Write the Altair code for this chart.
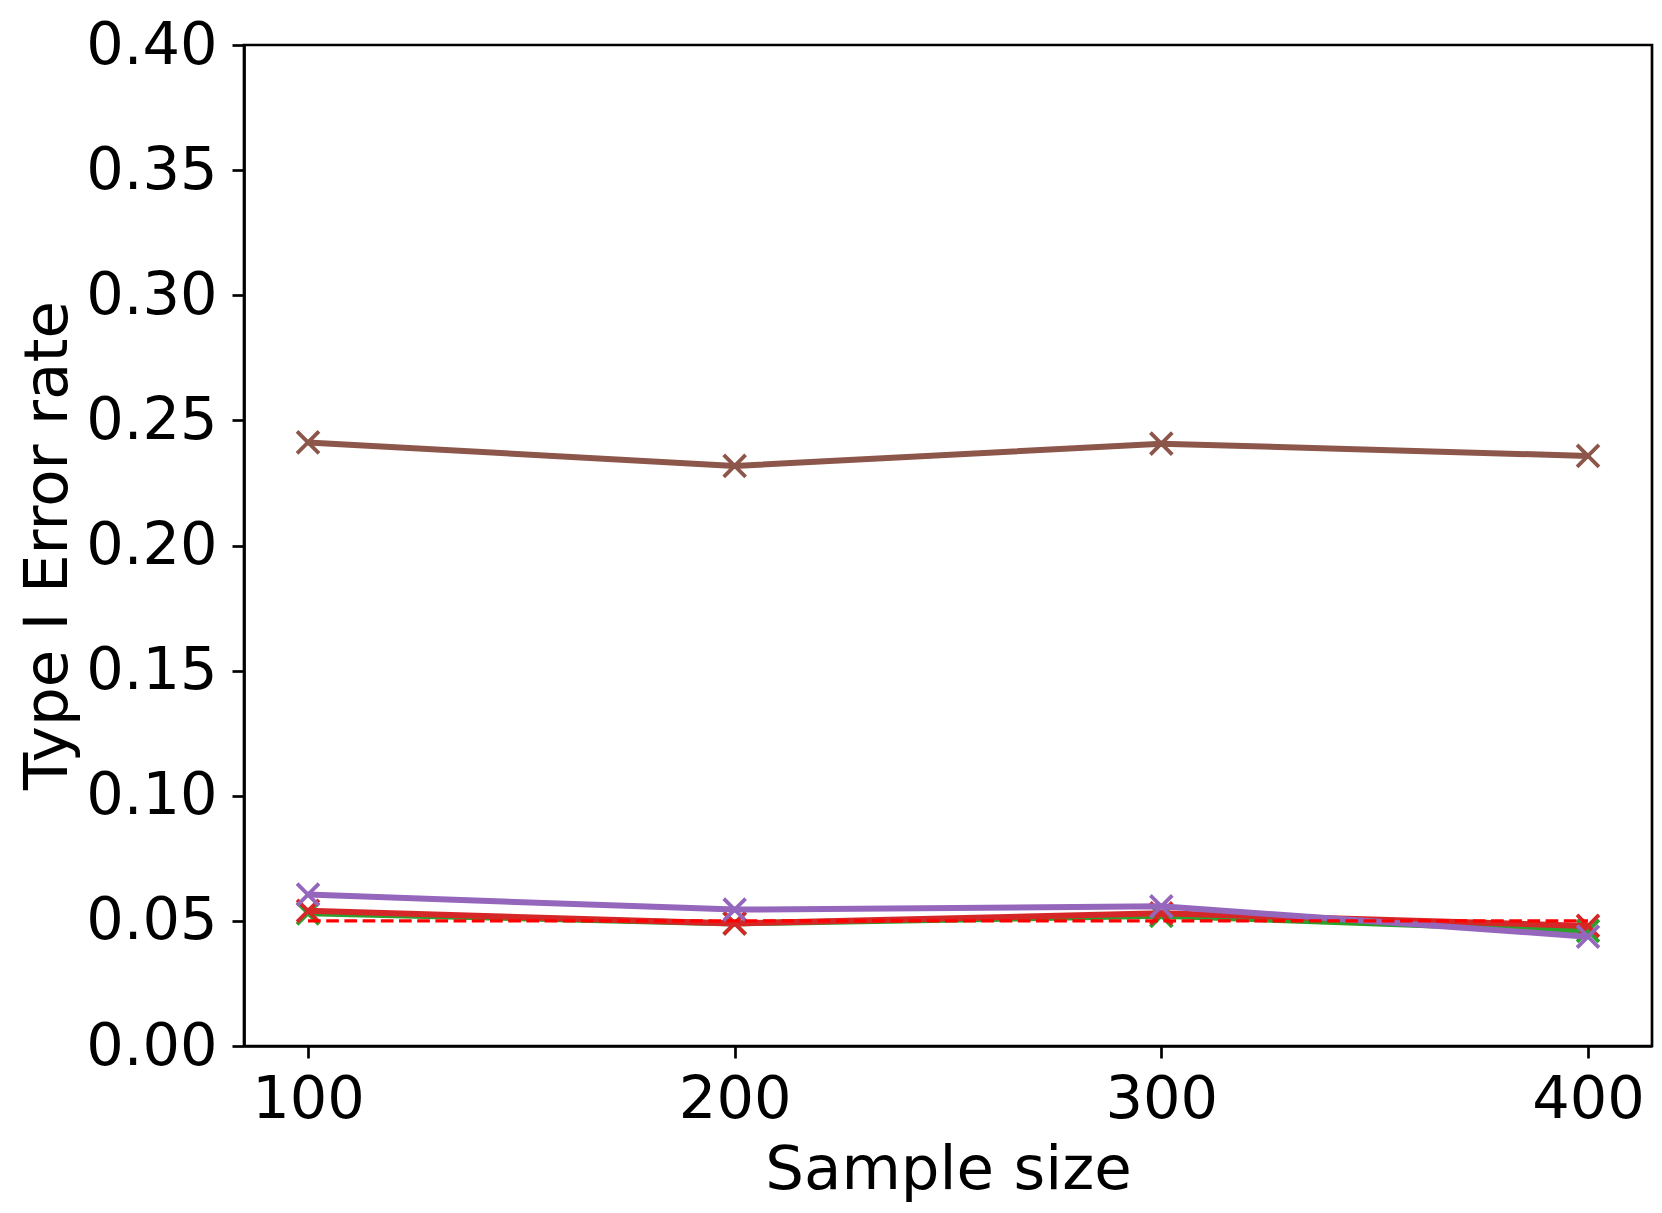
import altair as alt
import pandas as pd

sample_sizes = [100, 200, 300, 400]
green_vals = [0.053, 0.049, 0.052, 0.046]
red_vals = [0.054, 0.049, 0.053, 0.048]
purple_vals = [0.0605, 0.0545, 0.0558, 0.0437]
brown_vals = [0.2412, 0.2318, 0.2407, 0.2358]
nominal_level = [0.05, 0.05, 0.05, 0.05]
y_ticks = [0, 0.05, 0.10, 0.15, 0.20, 0.25, 0.30, 0.35, 0.40]

series = [
    ("green", green_vals, "#2ca02c"),
    ("red", red_vals, "#d62728"),
    ("purple", purple_vals, "#9467bd"),
    ("brown", brown_vals, "#8c564b"),
]

x_scale = alt.Scale(domain=[85, 415], nice=False, zero=False)
y_scale = alt.Scale(domain=[0, 0.40], nice=False)

x_axis = alt.Axis(
    title="Sample size", values=sample_sizes, format="d", grid=False,
    labelFontSize=59, titleFontSize=61, tickSize=12, tickWidth=2.7,
    domainWidth=2.7, domainColor="black", tickColor="black",
    labelColor="black", titleColor="black", labelPadding=12,
    titleFontWeight="normal", titleY=142, titleBaseline="alphabetic",
    labelFlush=False, labelFont="DejaVu Sans", titleFont="DejaVu Sans",
)
y_axis = alt.Axis(
    title="Type I Error rate", values=y_ticks,
    format=".2f", grid=False,
    labelFontSize=59, titleFontSize=61, tickSize=12, tickWidth=2.7,
    domainWidth=2.7, domainColor="black", tickColor="black",
    labelColor="black", titleColor="black", labelPadding=15,
    titleFontWeight="normal", titleX=-178, titleY=500, titleBaseline="alphabetic",
    titleAngle=-90, labelFlush=False, labelFont="DejaVu Sans", titleFont="DejaVu Sans",
)

cross = "M-1,-1L1,1M-1,1L1,-1"

def enc():
    return dict(
        x=alt.X("n:Q", scale=x_scale, axis=x_axis),
        y=alt.Y("rate:Q", scale=y_scale, axis=y_axis),
    )

layers = []
for name, vals, col in series:
    df = pd.DataFrame({"n": sample_sizes, "rate": vals})
    base = alt.Chart(df)
    line = base.mark_line(color=col, strokeWidth=6).encode(**enc())
    pts = base.mark_point(shape=cross, filled=False, color=col, strokeWidth=3.8,
                          size=480, opacity=1).encode(**enc())
    layers += [line, pts]

ref_df = pd.DataFrame({"n": sample_sizes, "rate": nominal_level})
ref = alt.Chart(ref_df).mark_line(color="#ff0000", strokeWidth=3.4,
                                  strokeDash=[12.7, 5.5]).encode(**enc())
layers.append(ref)

chart = alt.layer(*layers).properties(
    width=1408, height=1001,
    autosize=alt.AutoSizeParams(type="none"),
    padding={"left": 236, "top": 37, "right": 2, "bottom": 159},
).configure(font="DejaVu Sans").configure_view(stroke="black", strokeWidth=2.7)

chart.save("out.html", embed_options={"renderer": "svg", "actions": False})
